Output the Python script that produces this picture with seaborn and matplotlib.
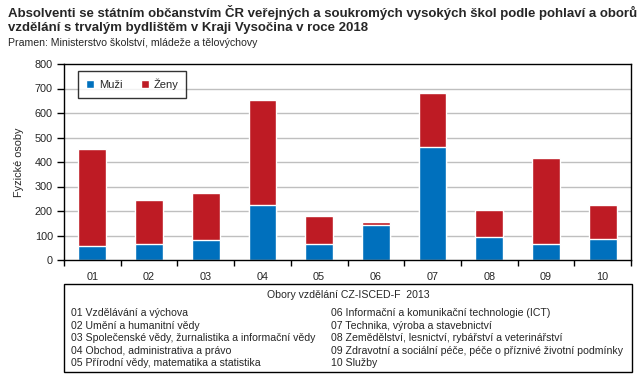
import matplotlib
matplotlib.use("Agg")
import matplotlib.pyplot as plt
import seaborn as sns
import pandas as pd
from matplotlib.patches import Rectangle
from matplotlib.lines import Line2D

codes = ["01", "02", "03", "04", "05", "06", "07", "08", "09", "10"]
muzi = [58, 66, 80, 226, 67, 144, 463, 95, 67, 87]
zeny = [395, 179, 195, 428, 113, 11, 218, 109, 349, 137]

obory_left = [
    "01 Vzdělávání a výchova",
    "02 Umění a humanitní vědy",
    "03 Společenské vědy, žurnalistika a informační vědy",
    "04 Obchod, administrativa a právo",
    "05 Přírodní vědy, matematika a statistika",
]
obory_right = [
    "06 Informační a komunikační technologie (ICT)",
    "07 Technika, výroba a stavebnictví",
    "08 Zemědělství, lesnictví, rybářství a veterinářství",
    "09 Zdravotní a sociální péče, péče o příznivé životní podmínky",
    "10 Služby",
]

df = pd.DataFrame({"obor": codes, "Muži": muzi, "Ženy": zeny})
df["celkem"] = df["Muži"] + df["Ženy"]

blue = "#0070BD"
red = "#BE1B24"

sns.set_style("white")
plt.rcParams["font.family"] = ["Liberation Sans", "DejaVu Sans"]

W, H = 643, 381
fig = plt.figure(figsize=(W / 100, H / 100), dpi=100)
ax = fig.add_axes([64 / W, 1 - 260 / H, (631 - 64) / W, (260 - 64) / H])

sns.barplot(data=df, x="obor", y="celkem", color=red, width=0.49, ax=ax, saturation=1)
sns.barplot(data=df, x="obor", y="Muži", color=blue, width=0.49, ax=ax, saturation=1)

ax.set_xlim(-0.5, 9.5)
ax.set_ylim(0, 800)
ax.set_yticks(range(0, 900, 100))
for v in range(100, 800, 100):
    ax.axhline(v, color="#BFBFBF", lw=1, zorder=0)
ax.set_axisbelow(True)
for s in ax.spines.values():
    s.set_color("black")
    s.set_linewidth(1)

ax.set_xticks([i - 0.5 for i in range(11)], minor=False)
ax.set_xticklabels([])
ax.set_xticks(range(10), minor=True)
ax.set_xticklabels(codes, minor=True)
ax.tick_params(axis="x", which="major", direction="out", length=4, width=1, color="black", bottom=True)
ax.tick_params(axis="x", which="minor", length=0, pad=9, labelsize=7.8)
ax.tick_params(axis="y", direction="out", length=5, width=1, color="black", left=True, labelsize=7.8, pad=3)
ax.set_xlabel("")
ax.set_ylabel("Fyzické osoby", fontsize=7.8, labelpad=8)

handles = [
    Line2D([], [], marker="s", color="w", markerfacecolor=blue, markersize=5.5, label="Muži"),
    Line2D([], [], marker="s", color="w", markerfacecolor=red, markersize=5.5, label="Ženy"),
]
leg = ax.legend(handles=handles, loc="upper left", bbox_to_anchor=(14 / 567, 1 - 7 / 196),
                ncol=2, frameon=True, fancybox=False, fontsize=8, handlelength=0.8,
                handletextpad=0.4, columnspacing=1.6, borderpad=0.7, borderaxespad=0)
leg.get_frame().set_edgecolor("black")
leg.get_frame().set_linewidth(1)

# titles
fig.text(8 / W, 1 - 12 / H, "Absolventi se státním občanstvím ČR veřejných a soukromých vysokých škol podle pohlaví a oborů",
         fontsize=9.5, fontweight="bold", va="center", ha="left")
fig.text(8 / W, 1 - 28 / H, "vzdělání s trvalým bydlištěm v Kraji Vysočina v roce 2018",
         fontsize=9.5, fontweight="bold", va="center", ha="left")
fig.text(8 / W, 1 - 43 / H, "Pramen: Ministerstvo školství, mládeže a tělovýchovy",
         fontsize=7.6, va="center", ha="left")

# bottom box with field names
fig.patches.append(Rectangle((64 / W, 1 - 372 / H), (632 - 64) / W, (372 - 284) / H,
                             transform=fig.transFigure, fill=False, edgecolor="black", lw=1))
fig.text((64 + 632) / 2 / W, 1 - 295 / H, "Obory vzdělání CZ-ISCED-F  2013",
         fontsize=7.6, ha="center", va="center")
for i, (l, r) in enumerate(zip(obory_left, obory_right)):
    y = 1 - (313 + i * 12.6) / H
    fig.text(71 / W, y, l, fontsize=7.6, va="center", ha="left")
    fig.text(331 / W, y, r, fontsize=7.6, va="center", ha="left")

fig.savefig("out.png", dpi=100)
